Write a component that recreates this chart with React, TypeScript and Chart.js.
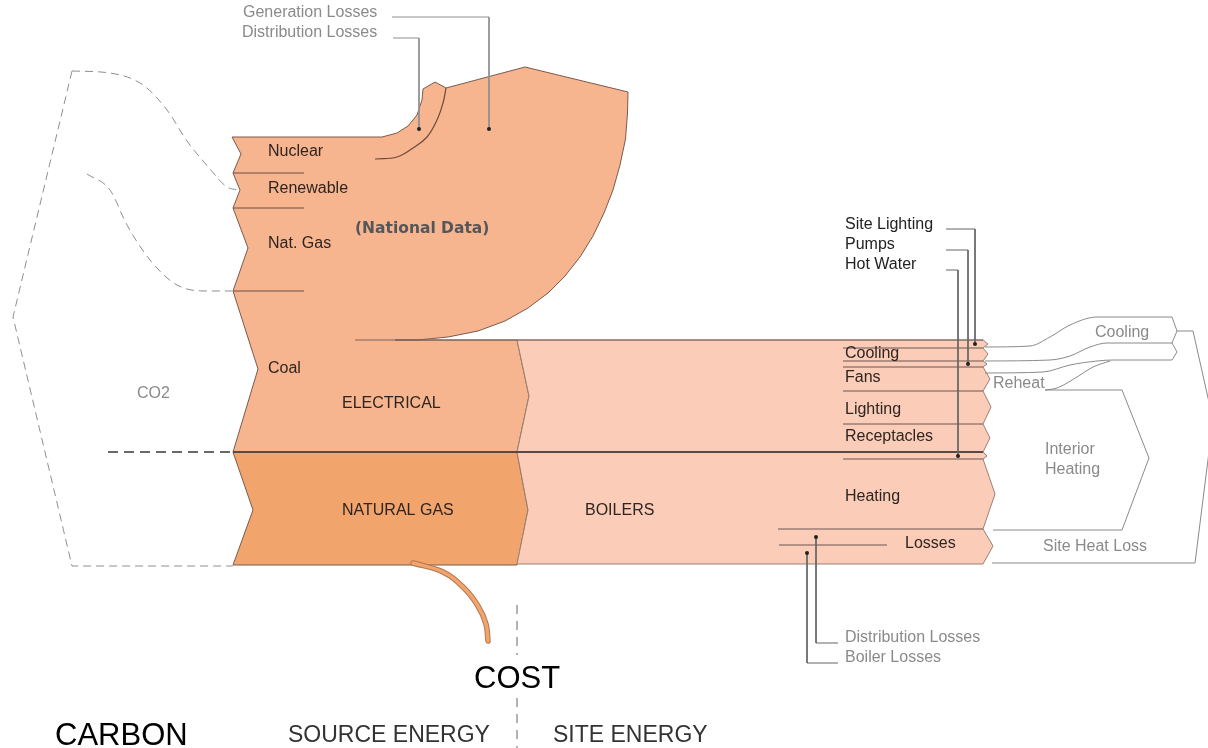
import React, { useEffect, useRef } from "react";
import { Chart, registerables } from "chart.js";

Chart.register(...registerables);

type P = [number, number];

// ---- shapes (data space: x 0..1208, y 0..748 top-down) ----
const sourceOutline: P[] = [
  [232, 137], [382, 137], [397, 133], [408, 126], [417, 115], [422, 100], [423, 89],
  [435, 82], [446, 88], [525, 67], [628, 92], [627.5, 113], [625.5, 139], [620, 165],
  [613, 190], [604, 213], [593, 236], [580, 257], [565, 276], [548, 293], [528, 308],
  [505, 321], [478, 331], [448, 337], [418, 340], [395, 340], [517, 340], [529, 396],
  [517, 452], [233, 452], [258, 369], [233, 291], [248, 248], [233, 208], [240, 190],
  [233, 173], [241, 154], [232, 137],
];
const gasOutline: P[] = [
  [233, 452], [517, 452], [528, 510], [517, 565], [233, 565], [253, 510], [233, 452],
];
const siteOutline: P[] = [
  [517, 340], [983, 340], [988, 344], [983, 348], [988, 354], [983, 361], [987, 364],
  [983, 367], [990, 379], [983, 391], [991, 407], [983, 424], [990, 438], [983, 452],
  [987, 456], [983, 459], [995, 494], [983, 529], [993, 546], [983, 564], [517, 564],
  [528, 510], [517, 452], [529, 396], [517, 340],
];
const distLossArc: P[] = [
  [446, 88], [443, 103], [437, 120], [427, 137], [413, 148], [397, 157], [375, 159],
];
const sourceDividers: P[][] = [
  [[233, 173], [304, 173]],
  [[233, 208], [304, 208]],
  [[233, 291], [304, 291]],
];
const siteDividers: P[][] = [
  [[843, 348], [983, 348]],
  [[843, 361], [983, 361]],
  [[843, 367], [983, 367]],
  [[843, 391], [983, 391]],
  [[843, 424], [983, 424]],
  [[843, 459], [983, 459]],
  [[778, 529], [983, 529]],
  [[779, 545], [887, 545]],
];
const electricTop: P[] = [[355, 340], [983, 340]];
const fuelDivide: P[] = [[233, 452], [983, 452]];

const co2Top: P[] = [
  [72, 71], [110, 73], [143, 85], [167, 110], [187, 141], [210, 169], [227, 187], [240, 190],
];
const co2Outer: P[] = [[72, 71], [13, 317], [72, 566], [233, 566]];
const co2Inner: P[] = [
  [87, 174], [110, 190], [127, 225], [150, 260], [177, 285], [207, 291], [232, 291],
];
const co2Mid: P[] = [[108, 452], [232, 452]];

const coolTop: P[] = [[985, 347], [1030, 346], [1050, 337], [1070, 325], [1097, 317], [1172, 317]];
const coolCap: P[] = [[1172, 317], [1177, 331], [1172, 343]];
const coolBottom: P[] = [[985, 361], [1050, 360], [1070, 356], [1090, 347], [1107, 343], [1172, 343]];
const pumpCap: P[] = [[1172, 343], [1177, 352], [1172, 360]];
const pumpBottom: P[] = [[985, 373], [1043, 372], [1070, 365], [1097, 361], [1113, 360], [1172, 360]];
const reheatCurve: P[] = [[1045, 390], [1057, 388], [1077, 377], [1093, 367], [1110, 361]];
const outerFlow: P[] = [[1177, 331], [1193, 331], [1213, 420], [1195, 563], [992, 563]];
const interiorFlow: P[] = [[1045, 390], [1122, 390], [1149, 458], [1122, 530], [993, 530]];

const costCurve: P[] = [[413, 563], [443, 572], [464, 588], [478, 606], [486, 624], [488, 641]];
const costDashA: P[] = [[517, 605], [517, 655]];
const costDashB: P[] = [[517, 698], [517, 748]];

const leadersGray: P[][] = [
  [[392, 17], [489, 17], [489, 129]],
  [[393, 38], [419, 38], [419, 129]],
];
const leadersDark: P[][] = [
  [[946, 229], [975, 229], [975, 344]],
  [[946, 250], [968, 250], [968, 364]],
  [[946, 270], [958, 270], [958, 456]],
  [[816, 537], [816, 643], [838, 643]],
  [[807, 553], [807, 663], [838, 663]],
];
const leaderDots: P[] = [
  [489, 129], [419, 129], [975, 344], [968, 364], [958, 456], [816, 537], [807, 553],
];

// ---- text ----
const FONT = '"Liberation Sans", Arial, Helvetica, sans-serif';
const DARK = "#2e2420";
const GRAY = "#8a8a8a";

type Lbl = {
  t: string; x: number; y: number; size?: number; color?: string;
  bold?: boolean; family?: string; base?: CanvasTextBaseline;
};
const labels: Lbl[] = [
  { t: "Generation Losses", x: 243, y: 13, color: GRAY },
  { t: "Distribution Losses", x: 242, y: 33, color: GRAY },
  { t: "Nuclear", x: 268, y: 152 },
  { t: "Renewable", x: 268, y: 189 },
  { t: "Nat. Gas", x: 268, y: 244 },
  { t: "(National Data)", x: 355, y: 229, size: 15.5, bold: true, color: "#53575b", family: '"DejaVu Sans", sans-serif' },
  { t: "Coal", x: 268, y: 369 },
  { t: "CO2", x: 137, y: 394, color: GRAY },
  { t: "ELECTRICAL", x: 342, y: 404 },
  { t: "NATURAL GAS", x: 342, y: 511 },
  { t: "BOILERS", x: 585, y: 511 },
  { t: "Site Lighting", x: 845, y: 225, color: "#222" },
  { t: "Pumps", x: 845, y: 245, color: "#222" },
  { t: "Hot Water", x: 845, y: 265, color: "#222" },
  { t: "Cooling", x: 845, y: 354 },
  { t: "Fans", x: 845, y: 378 },
  { t: "Lighting", x: 845, y: 410 },
  { t: "Receptacles", x: 845, y: 437 },
  { t: "Heating", x: 845, y: 497 },
  { t: "Losses", x: 905, y: 544 },
  { t: "Cooling", x: 1095, y: 333, color: GRAY },
  { t: "Reheat", x: 993, y: 384, color: GRAY },
  { t: "Interior", x: 1045, y: 450, color: GRAY },
  { t: "Heating", x: 1045, y: 470, color: GRAY },
  { t: "Site Heat Loss", x: 1043, y: 547, color: GRAY },
  { t: "Distribution Losses", x: 845, y: 638, color: GRAY },
  { t: "Boiler Losses", x: 845, y: 658, color: GRAY },
  { t: "COST", x: 474, y: 688, size: 31, color: "#000", base: "alphabetic" },
  { t: "CARBON", x: 55, y: 745, size: 31, color: "#000", base: "alphabetic" },
  { t: "SOURCE ENERGY", x: 288, y: 742, size: 23, color: "#333", base: "alphabetic" },
  { t: "SITE ENERGY", x: 553, y: 742, size: 23, color: "#333", base: "alphabetic" },
];

const labelPlugin = {
  id: "diagramLabels",
  afterDatasetsDraw(chart: any) {
    const { ctx } = chart;
    const xs = chart.scales.x;
    const ys = chart.scales.y;
    ctx.save();
    for (const l of labels) {
      ctx.font = `${l.bold ? "bold " : ""}${l.size ?? 16}px ${l.family ?? FONT}`;
      ctx.fillStyle = l.color ?? DARK;
      ctx.textBaseline = l.base ?? "middle";
      ctx.textAlign = "left";
      ctx.fillText(l.t, xs.getPixelForValue(l.x), ys.getPixelForValue(l.y));
    }
    ctx.restore();
  },
};

const pts = (a: P[]) => a.map(([x, y]) => ({ x, y }));

function shape(a: P[], bg: string, border: string, bw = 1) {
  return {
    data: pts(a), fill: "shape", backgroundColor: bg, borderColor: border,
    borderWidth: bw, pointRadius: 0, tension: 0, borderJoinStyle: "miter",
  };
}
function line(a: P[], color: string, bw = 1, extra: any = {}) {
  return {
    data: pts(a), fill: false, borderColor: color, borderWidth: bw,
    pointRadius: 0, tension: 0, ...extra,
  };
}
function curve(a: P[], color: string, bw = 1, extra: any = {}) {
  return line(a, color, bw, { cubicInterpolationMode: "monotone", ...extra });
}

export default function App() {
  const ref = useRef<HTMLCanvasElement | null>(null);

  useEffect(() => {
    if (!ref.current) return;
    const dash = { borderDash: [8, 5] };
    const datasets: any[] = [
      curve(co2Top, "#8f8f8f", 1, dash),
      line(co2Outer, "#8f8f8f", 1, dash),
      curve(co2Inner, "#8f8f8f", 1, dash),
      line(co2Mid, "#6a6a6a", 2, { borderDash: [10, 6] }),
      shape(sourceOutline, "#F6B48F", "#7a5a4c", 1),
      shape(gasOutline, "#F1A46B", "#7a5a4c", 1),
      shape(siteOutline, "#FBCDB8", "#9a7f74", 1),
      ...sourceDividers.map((d) => line(d, "#6a5048", 1)),
      ...siteDividers.map((d) => line(d, "#6a5550", 1)),
      line(electricTop, "#7a6560", 1.2),
      line(fuelDivide, "#5a4a45", 2),
      line(distLossArc, "#6a4a3e", 1.2, { tension: 0.4 }),
      curve(coolTop, "#8a8a8a", 1),
      line(coolCap, "#8a8a8a", 1),
      curve(coolBottom, "#8a8a8a", 1),
      line(pumpCap, "#8a8a8a", 1),
      curve(pumpBottom, "#8a8a8a", 1),
      curve(reheatCurve, "#8a8a8a", 1),
      line(outerFlow, "#8a8a8a", 1),
      line(interiorFlow, "#8a8a8a", 1),
      ...leadersGray.map((d) => line(d, "#8f8f8f", 1)),
      ...leadersDark.map((d) => line(d, "#666", 1)),
      line(costCurve, "#b5764f", 5.5, { tension: 0.4, borderCapStyle: "round" }),
      line(costCurve, "#F1A46B", 3.5, { tension: 0.4, borderCapStyle: "round" }),
      line(costDashA, "#9a9a9a", 1.5, { borderDash: [9, 7] }),
      line(costDashB, "#9a9a9a", 1.5, { borderDash: [9, 7] }),
      {
        data: pts(leaderDots), showLine: false, pointRadius: 2, pointHoverRadius: 2,
        pointBackgroundColor: "#222", pointBorderWidth: 0, borderWidth: 0,
      },
    ];
    datasets.forEach((d, i) => (d.order = -i));

    const chart = new Chart(ref.current, {
      type: "line",
      data: { datasets },
      options: {
        animation: false,
        responsive: true,
        maintainAspectRatio: false,
        events: [],
        layout: { padding: 0, autoPadding: false },
        plugins: {
          legend: { display: false },
          tooltip: { enabled: false },
          filler: { propagate: false },
        },
        scales: {
          x: { type: "linear", min: 0, max: 1208, display: false },
          y: { type: "linear", min: 0, max: 748, reverse: true, display: false },
        },
      } as any,
      plugins: [labelPlugin],
    });
    return () => chart.destroy();
  }, []);

  return (
    <div
      style={{
        position: "fixed", left: 0, top: 0, width: 1208, height: 748,
        background: "#fff",
      }}
    >
      <canvas ref={ref} />
    </div>
  );
}
